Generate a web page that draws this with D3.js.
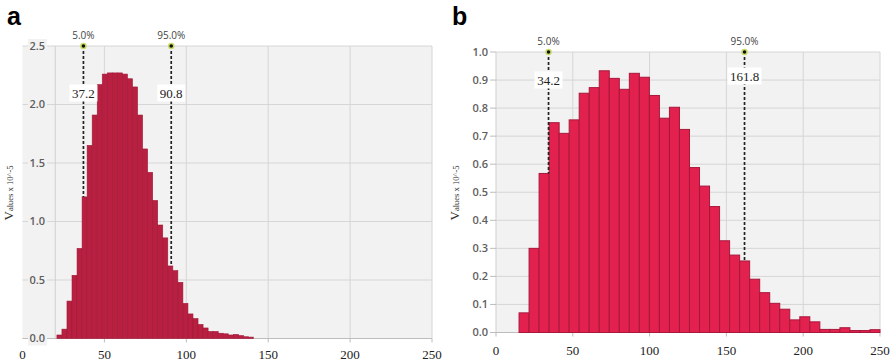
<!DOCTYPE html>
<html>
<head>
<meta charset="utf-8">
<script src="https://cdn.jsdelivr.net/npm/d3@7"></script>
<style>
  body { margin: 0; background: #fff; }
  svg { display: block; }
</style>
</head>
<body>
<div id="chart"></div>
<script>
// histogram a: 39 bins between 21 and 141
const aStart = 21, aEnd = 141;
const aValues = [0.03, 0.08, 0.32, 0.54, 0.77, 1.21, 1.65, 1.91, 2.17, 2.26,
                 2.27, 2.27, 2.27, 2.26, 2.22, 2.15, 1.91, 1.62, 1.42, 1.18,
                 0.97, 0.86, 0.62, 0.58, 0.48, 0.30, 0.21, 0.17, 0.12, 0.09,
                 0.06, 0.06, 0.045, 0.04, 0.03, 0.035, 0.025, 0.015, 0.012];
const aYTicks = [0, 0.5, 1.0, 1.5, 2.0, 2.5];
const aMarkers = [{ pct: "5.0%", value: 37.2 }, { pct: "95.0%", value: 90.8 }];

// histogram b: 36 bins between 15 and 250
const bStart = 15, bEnd = 250;
const bValues = [0.07, 0.30, 0.567, 0.748, 0.71, 0.758, 0.853, 0.873, 0.933, 0.906,
                 0.867, 0.924, 0.91, 0.845, 0.764, 0.803, 0.724, 0.588, 0.522, 0.449,
                 0.327, 0.276, 0.255, 0.19, 0.142, 0.104, 0.083, 0.045, 0.056, 0.038,
                 0.011, 0.011, 0.017, 0.007, 0.007, 0.01];
const bYTicks = [0, 0.1, 0.2, 0.3, 0.4, 0.5, 0.6, 0.7, 0.8, 0.9, 1.0];
const bMarkers = [{ pct: "5.0%", value: 34.2 }, { pct: "95.0%", value: 161.8 }];

const xTicks = [0, 50, 100, 150, 200, 250];

const w = 894, h = 364;
const svg = d3.select("#chart").append("svg").attr("width", w).attr("height", h);

const fmt = d3.format(".1f");

function drawPanel(p) {
  const x = d3.scaleLinear().domain([0, 250]).range([p.x0, p.x1]);
  const y = d3.scaleLinear().domain([0, p.yMax]).range([p.y0, p.y1]);
  const binW = (p.end - p.start) / p.values.length;
  const bins = p.values.map((v, i) => ({ lo: p.start + i * binW, hi: p.start + (i + 1) * binW, v: v }));

  const g = svg.append("g");

  // plot background
  g.append("rect")
   .attr("x", x(p.bgFrom)).attr("y", y(p.yMax))
   .attr("width", x(250) - x(p.bgFrom)).attr("height", y(0) - y(p.yMax))
   .attr("fill", "#f2f2f2");

  // grid
  g.selectAll(".hg").data(p.yTicks).enter().append("line")
   .attr("x1", x(p.bgFrom)).attr("x2", x(250))
   .attr("y1", d => y(d)).attr("y2", d => y(d))
   .attr("stroke", "#d6d6d6").attr("stroke-width", 1);
  g.selectAll(".vg").data(xTicks.filter(d => d > p.axisAt)).enter().append("line")
   .attr("x1", d => x(d)).attr("x2", d => x(d))
   .attr("y1", y(p.yMax)).attr("y2", y(0))
   .attr("stroke", "#d6d6d6").attr("stroke-width", 1);
  g.append("line")
   .attr("x1", x(p.axisAt)).attr("x2", x(p.axisAt))
   .attr("y1", y(p.yMax)).attr("y2", y(0))
   .attr("stroke", "#cfcfcf").attr("stroke-width", 1);
  g.append("line")
   .attr("x1", x(p.bgFrom)).attr("x2", x(250))
   .attr("y1", y(0)).attr("y2", y(0))
   .attr("stroke", "#bdbdbd").attr("stroke-width", 1);

  // x ticks
  g.selectAll(".xt").data(xTicks.filter(d => d >= p.axisAt)).enter().append("line")
   .attr("x1", d => x(d)).attr("x2", d => x(d))
   .attr("y1", y(0)).attr("y2", y(0) + 4)
   .attr("stroke", "#bdbdbd");

  // bars
  g.selectAll(".bar").data(bins).enter().append("rect")
   .attr("x", d => x(d.lo)).attr("width", d => x(d.hi) - x(d.lo))
   .attr("y", d => y(d.v)).attr("height", d => y(0) - y(d.v))
   .attr("fill", p.fill).attr("stroke", p.stroke).attr("stroke-width", p.strokeW);

  // y tick labels
  const yl = g.selectAll(".yl").data(p.yTicks).enter().append("g");
  if (p.labelBg) {
    yl.append("rect")
      .attr("x", p.yLabelX - 17).attr("y", d => y(d) - 7)
      .attr("width", 19).attr("height", 14)
      .attr("fill", "#f2f2f2");
  } else {
    yl.append("line")
      .attr("x1", x(0) - 6).attr("x2", x(0))
      .attr("y1", d => y(d)).attr("y2", d => y(d))
      .attr("stroke", "#bdbdbd");
  }
  yl.append("text")
    .attr("x", p.yLabelX).attr("y", d => y(d)).attr("dy", "0.35em")
    .attr("text-anchor", "end")
    .style("font-family", "'Open Sans', sans-serif").style("font-size", "11px")
    .style("font-weight", "600").style("fill", "#5e5e5e")
    .text(d => fmt(d));

  // x tick labels
  g.selectAll(".xl").data(xTicks).enter().append("text")
   .attr("x", d => x(d)).attr("y", p.xLabelY).attr("dy", "0.35em")
   .attr("text-anchor", "middle")
   .style("font-family", "'Liberation Serif', serif").style("font-size", "13px")
   .style("fill", "#222")
   .text(d => d);

  // y title
  const t = g.append("text")
   .attr("transform", `translate(${p.titleX},${p.titleY}) rotate(-90)`)
   .attr("text-anchor", "middle")
   .style("font-family", "'Liberation Serif', serif").style("fill", "#333");
  t.append("tspan").style("font-size", "13px").text("V");
  t.append("tspan").style("font-size", "8.5px").text("alues x 10^-5");

  // percentile markers
  p.markers.forEach((m, i) => {
    const bin = bins.find(b => m.value >= b.lo && m.value < b.hi);
    const mx = x(m.value);
    g.append("line")
     .attr("x1", mx).attr("x2", mx)
     .attr("y1", y(p.yMax)).attr("y2", y(bin.v))
     .attr("stroke", "#222").attr("stroke-width", 1.7)
     .attr("stroke-dasharray", "3,2");
    g.append("circle").attr("cx", mx).attr("cy", y(p.yMax)).attr("r", 3.3)
     .attr("fill", "#c8dc6a");
    g.append("circle").attr("cx", mx).attr("cy", y(p.yMax)).attr("r", 1.8)
     .attr("fill", "#111");
    g.append("text")
     .attr("x", mx).attr("y", p.pctY).attr("dy", "0.35em")
     .attr("text-anchor", "middle")
     .style("font-family", "'Open Sans', sans-serif").style("font-size", "10px")
     .style("fill", "#444")
     .text(m.pct);
    const label = m.value.toFixed(1);
    const bw = label.length * 6 + 4;
    g.append("rect")
     .attr("x", mx - bw / 2).attr("y", p.valY[i] - 8.5)
     .attr("width", bw).attr("height", 17)
     .attr("fill", "#fff");
    g.append("text")
     .attr("x", mx).attr("y", p.valY[i]).attr("dy", "0.35em")
     .attr("text-anchor", "middle")
     .style("font-family", "'Liberation Serif', serif").style("font-size", "13px")
     .style("fill", "#222")
     .text(label);
  });

  // panel letter
  svg.append("text")
     .attr("x", p.letterX).attr("y", 25)
     .style("font-family", "'Liberation Sans', Arial, sans-serif")
     .style("font-size", "25px").style("font-weight", "bold")
     .text(p.letter);
}

drawPanel({
  letter: "a", letterX: 7,
  values: aValues, start: aStart, end: aEnd,
  yMax: 2.5, yTicks: aYTicks, markers: aMarkers,
  x0: 22.5, x1: 432, y0: 338.5, y1: 46,
  bgFrom: 0, axisAt: 20, labelBg: true, yLabelX: 45,
  xLabelY: 354, titleX: 13, titleY: 193,
  pctY: 35, valY: [93, 93],
  fill: "#b81f40", stroke: "#a01a38", strokeW: 0.6
});

drawPanel({
  letter: "b", letterX: 452,
  values: bValues, start: bStart, end: bEnd,
  yMax: 1.0, yTicks: bYTicks, markers: bMarkers,
  x0: 496, x1: 880, y0: 332.5, y1: 52,
  bgFrom: 0, axisAt: 0, labelBg: false, yLabelX: 488,
  xLabelY: 350, titleX: 459, titleY: 193,
  pctY: 41, valY: [80, 76],
  fill: "#e2214f", stroke: "#a8183b", strokeW: 1
});
</script>
</body>
</html>
